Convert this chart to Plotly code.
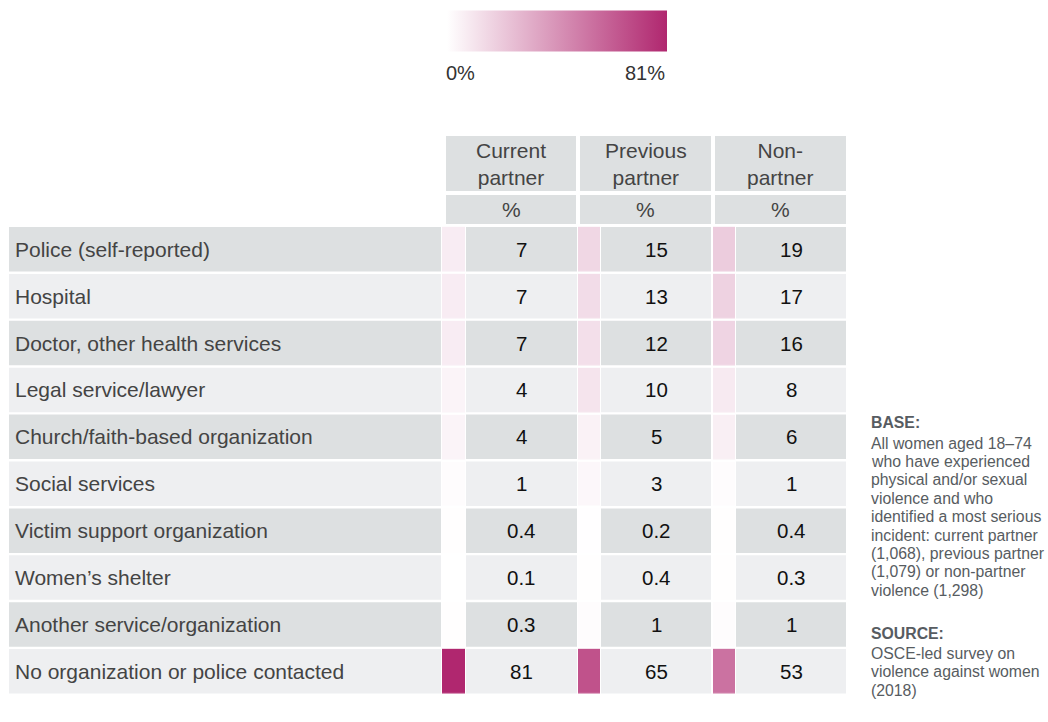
import plotly.graph_objects as go

# ---------------- data ----------------
categories = [
    "Police (self-reported)",
    "Hospital",
    "Doctor, other health services",
    "Legal service/lawyer",
    "Church/faith-based organization",
    "Social services",
    "Victim support organization",
    "Women’s shelter",
    "Another service/organization",
    "No organization or police contacted",
]
series_names = ["Current<br>partner", "Previous<br>partner", "Non-<br>partner"]
current_partner = [7, 7, 7, 4, 4, 1, 0.4, 0.1, 0.3, 81]
previous_partner = [15, 13, 12, 10, 5, 3, 0.2, 0.4, 1, 65]
non_partner = [19, 17, 16, 8, 6, 1, 0.4, 0.3, 1, 53]
series_values = [current_partner, previous_partner, non_partner]
scale_min, scale_max = 0, 81
scale_labels = ["0%", "81%"]
unit_label = "%"
base_lines = ["All women aged 18–74", "who have experienced", "physical and/or sexual",
              "violence and who", "identified a most serious", "incident: current partner",
              "(1,068), previous partner", "(1,079) or non-partner", "violence (1,298)"]
source_lines = ["OSCE-led survey on", "violence against women", "(2018)"]

# ---------------- layout constants ----------------
W, H = 1048, 722
DARK = "#DDE0E1"
LIGHT = "#EEEFF1"
TXT = "#444444"
FONT = "Liberation Sans, Arial"
row_top0 = 227
row_pitch = 46.9
row_h = 44.5
label_x0, label_x1 = 9, 441
swatch_cols = [(442, 465), (578, 600), (713, 735)]
value_cols = [(466, 577), (601, 711), (736, 846)]
header_cols = [(446, 576), (580, 711), (715, 846)]
hdr1 = (136, 191)
hdr2 = (195, 224)

fig = go.Figure()

shapes = []
annotations = []

def rect(x0, x1, y0, y1, color):
    shapes.append(dict(type="rect", xref="x", yref="y", x0=x0, x1=x1, y0=y0, y1=y1,
                       fillcolor=color, line=dict(width=0), layer="below"))

def text(x, y, s, size, color, xanchor="center", yanchor="middle"):
    annotations.append(dict(x=x, y=y, text=s, xanchor=xanchor, yanchor=yanchor,
                            showarrow=False, xref="x", yref="y", align="left" if xanchor == "left" else "center",
                            font=dict(size=size, color=color, family=FONT)))

# header
for (x0, x1), name in zip(header_cols, series_names):
    rect(x0, x1, hdr1[0], hdr1[1], DARK)
    rect(x0, x1, hdr2[0], hdr2[1], DARK)
    text((x0 + x1) / 2, (hdr1[0] + hdr1[1]) / 2, name, 21, TXT)
    text((x0 + x1) / 2, (hdr2[0] + hdr2[1]) / 2, unit_label, 21, TXT)

# rows
for i, cat in enumerate(categories):
    top = row_top0 + row_pitch * i
    bot = top + row_h
    col = DARK if i % 2 == 0 else LIGHT
    rect(label_x0, label_x1, top, bot, col)
    text(13, (top + bot) / 2, cat, 21, TXT, xanchor="left")
    for (x0, x1), vals in zip(value_cols, series_values):
        rect(x0, x1, top, bot, col)
        text((x0 + x1) / 2, (top + bot) / 2, f"{vals[i]:g}", 20.5, "#111111")

# color swatches via heatmaps
ybounds = [row_top0 - 1.2 + row_pitch * i for i in range(len(categories) + 1)]
for (x0, x1), vals in zip(swatch_cols, series_values):
    fig.add_trace(go.Heatmap(
        z=[[v] for v in vals], x=[x0, x1], y=ybounds, coloraxis="coloraxis",
        ygap=2.4, hoverinfo="skip"))

# scale labels
text(444, 73, scale_labels[0], 20, "#333333", xanchor="left")
text(667, 73, scale_labels[1], 20, "#333333", xanchor="right")

# footnotes
FN = "#575C61"
FS = 15.8
text(869, 422.5, "<b>BASE:</b>", FS, FN, xanchor="left")
for k, line in enumerate(base_lines):
    text(869, 443 + 18.4 * k, line, FS, FN, xanchor="left")
text(869, 633.5, "<b>SOURCE:</b>", FS, FN, xanchor="left")
for k, line in enumerate(source_lines):
    text(869, 653 + 18.7 * k, line, FS, FN, xanchor="left")

fig.update_layout(
    width=W, height=H,
    margin=dict(l=0, r=0, t=0, b=0, autoexpand=False),
    paper_bgcolor="white", plot_bgcolor="white",
    xaxis=dict(range=[0, W], visible=False, fixedrange=True),
    yaxis=dict(range=[H, 0], visible=False, fixedrange=True),
    shapes=shapes, annotations=annotations, showlegend=False,
    coloraxis=dict(
        cmin=scale_min, cmax=scale_max,
        colorscale=[[0, "#FFFFFF"], [1, "#B0276F"]],
        colorbar=dict(orientation="h", thickness=41, lenmode="pixels", len=220,
                      x=556.5 / W, xanchor="center", y=1 - 31 / H, yanchor="middle",
                      showticklabels=False, ticks="", outlinewidth=0, xpad=0, ypad=0),
    ),
)

fig.write_html("out.html", config={"displayModeBar": False},
               post_script="document.body.style.margin='0px';document.body.style.padding='0px';")
